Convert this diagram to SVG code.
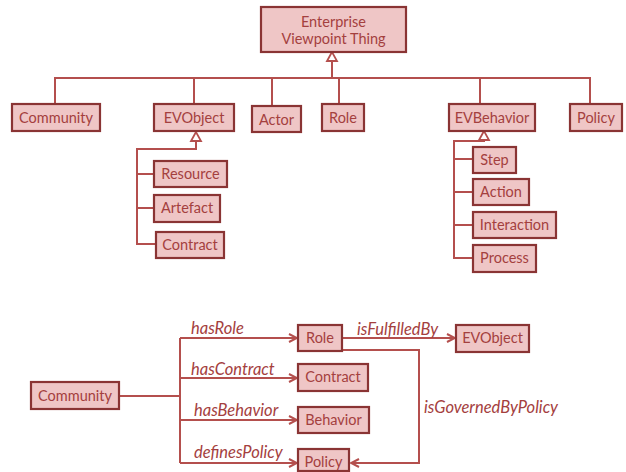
<svg xmlns="http://www.w3.org/2000/svg" width="626" height="472" viewBox="0 0 626 472">
<style>
.b{fill:#efc6c6;stroke:#8a3434;stroke-width:2.2}
.t{font-family:Lato,"Open Sans",sans-serif;font-size:14.5px;fill:#a4403e;text-anchor:middle}
.l{font-family:Lato,"Open Sans",sans-serif;font-size:16.5px;fill:#a4403e;font-style:italic}
.c{fill:none;stroke:#b44f4d;stroke-width:2}
</style>
<defs>
<marker id="arr" viewBox="0 0 10 10" refX="9" refY="5" markerWidth="10" markerHeight="10" markerUnits="userSpaceOnUse" orient="auto">
<path d="M1,1 L9,5 L1,9" fill="none" stroke="#b44f4d" stroke-width="2"/>
</marker>
</defs>
<g id="connectors">
<path class="c" d="M332,60 V78 M55,104 V78 H590 V104 M194,78 V104 M272,78 V106 M339,78 V104 M480,78 V104"/>
<path d="M332,52 L327,61 L337,61 Z" fill="#fff" stroke="#b44f4d" stroke-width="1.8"/>
<path class="c" d="M196,141 V149 H137 V244 H156 M137,174 H154 M137,208 H154"/>
<path d="M196,132 L191,141 L201,141 Z" fill="#fff" stroke="#b44f4d" stroke-width="1.8"/>
<path class="c" d="M484,140 V141 H454 V258 H473 M454,159 H473 M454,192 H473 M454,225 H473"/>
<path d="M484,131 L479,140 L489,140 Z" fill="#fff" stroke="#b44f4d" stroke-width="1.8"/>
<path class="c" d="M119,396 H180 M180,338 V463"/>
<path class="c" d="M180,338 H297" marker-end="url(#arr)"/>
<path class="c" d="M180,378 H297" marker-end="url(#arr)"/>
<path class="c" d="M180,420 H297" marker-end="url(#arr)"/>
<path class="c" d="M180,463 H297" marker-end="url(#arr)"/>
<path class="c" d="M342,338 H455" marker-end="url(#arr)"/>
<path class="c" d="M342,350 H419 V463 H351" marker-end="url(#arr)"/>
<text class="l" x="191" y="334">hasRole</text>
<text class="l" x="191" y="375">hasContract</text>
<text class="l" x="194" y="416">hasBehavior</text>
<text class="l" x="194" y="458">definesPolicy</text>
<text class="l" x="357" y="335">isFulfilledBy</text>
<text class="l" x="424" y="413">isGovernedByPolicy</text>
</g>
<g id="evthing"><rect class="b" x="261" y="7" width="145" height="45"/><text class="t" x="333.5" y="27">Enterprise</text><text class="t" x="333.5" y="44">Viewpoint Thing</text></g>
<g id="community"><rect class="b" x="12" y="104" width="88" height="27"/><text class="t" x="56" y="123">Community</text></g>
<g id="evobject"><rect class="b" x="154" y="104" width="80" height="27"/><text class="t" x="194" y="123">EVObject</text></g>
<g id="actor"><rect class="b" x="252" y="106" width="49" height="26"/><text class="t" x="276.5" y="125">Actor</text></g>
<g id="role"><rect class="b" x="322" y="104" width="42" height="27"/><text class="t" x="343" y="123">Role</text></g>
<g id="evbehavior"><rect class="b" x="449" y="104" width="86" height="27"/><text class="t" x="492" y="123">EVBehavior</text></g>
<g id="policy"><rect class="b" x="570" y="104" width="52" height="27"/><text class="t" x="596" y="123">Policy</text></g>
<g id="resource"><rect class="b" x="154" y="161" width="73" height="26"/><text class="t" x="190.5" y="179">Resource</text></g>
<g id="artefact"><rect class="b" x="154" y="195" width="66" height="27"/><text class="t" x="187" y="213">Artefact</text></g>
<g id="contract"><rect class="b" x="156" y="232" width="68" height="26"/><text class="t" x="190" y="250">Contract</text></g>
<g id="step"><rect class="b" x="473" y="147" width="43" height="26"/><text class="t" x="494.5" y="165">Step</text></g>
<g id="action"><rect class="b" x="473" y="179" width="56" height="26"/><text class="t" x="501" y="197">Action</text></g>
<g id="interaction"><rect class="b" x="473" y="212" width="83" height="26"/><text class="t" x="514.5" y="230">Interaction</text></g>
<g id="process"><rect class="b" x="473" y="245" width="63" height="27"/><text class="t" x="504.5" y="263">Process</text></g>
<g id="community2"><rect class="b" x="31" y="382" width="88" height="27"/><text class="t" x="75" y="401">Community</text></g>
<g id="role2"><rect class="b" x="298" y="325" width="44" height="26"/><text class="t" x="320" y="343">Role</text></g>
<g id="contract2"><rect class="b" x="298" y="364" width="70" height="27"/><text class="t" x="333" y="382">Contract</text></g>
<g id="behavior2"><rect class="b" x="298" y="407" width="71" height="26"/><text class="t" x="333.5" y="425">Behavior</text></g>
<g id="policy2"><rect class="b" x="298" y="449" width="51" height="22"/><text class="t" x="323.5" y="467">Policy</text></g>
<g id="evobject2"><rect class="b" x="456" y="325" width="73" height="27"/><text class="t" x="492.5" y="343">EVObject</text></g>
</svg>
